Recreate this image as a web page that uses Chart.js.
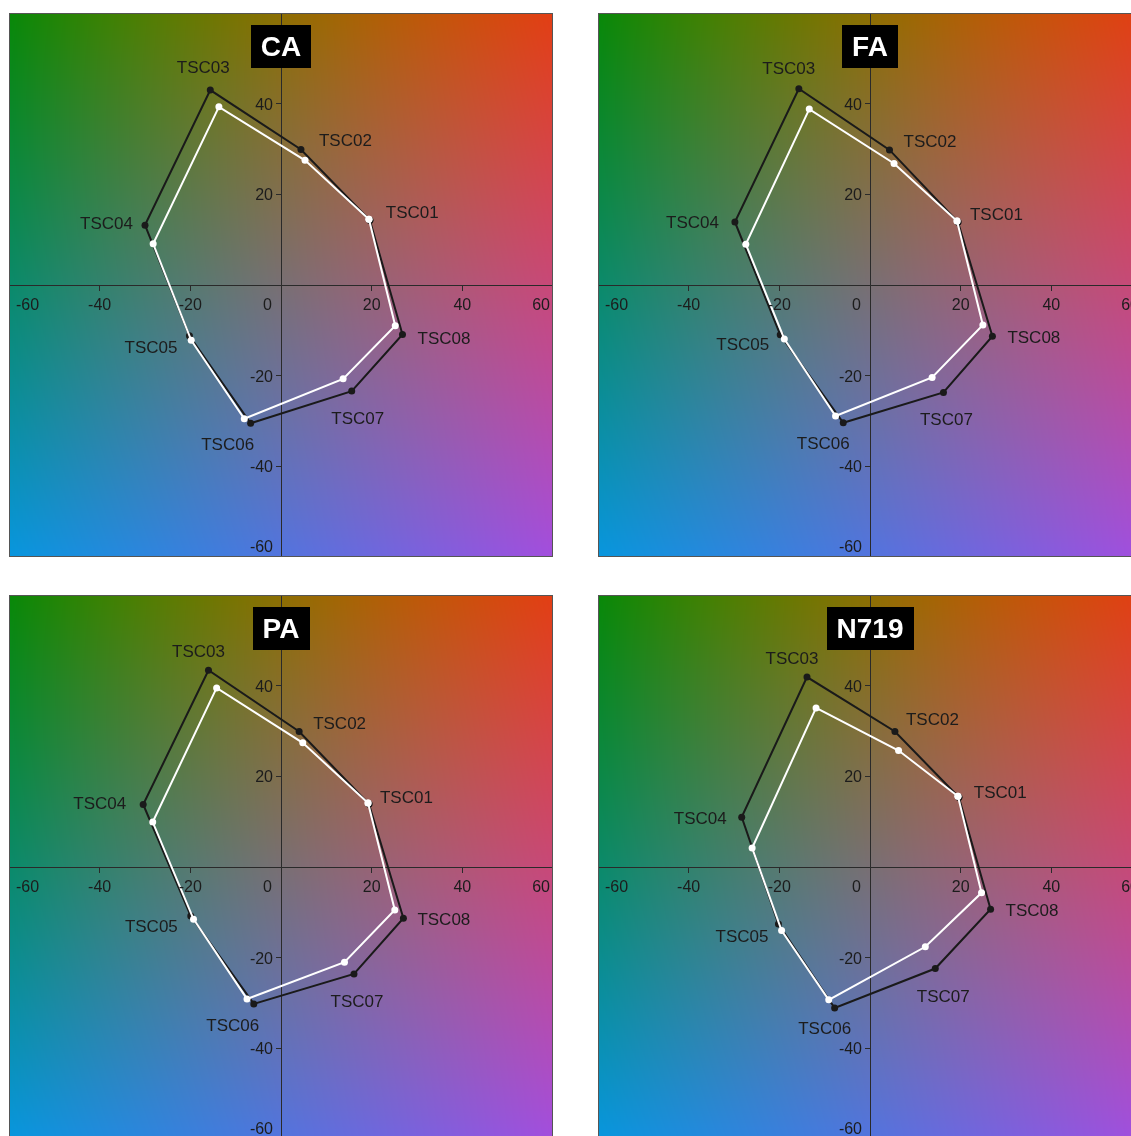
<!DOCTYPE html>
<html>
<head>
<meta charset="utf-8">
<script src="https://cdn.jsdelivr.net/npm/chart.js@4.4.1/dist/chart.umd.min.js"></script>
<style>
  html, body { margin: 0; padding: 0; background: #fff; overflow: hidden; }
  #sheet { position: relative; width: 1131px; height: 1136px; overflow: hidden; }
  #sheet canvas { position: absolute; }
</style>
</head>
<body>
<div id="sheet">
  <canvas id="cvCA" width="544" height="544" style="left:9px;top:13px"></canvas>
  <canvas id="cvFA" width="544" height="544" style="left:598px;top:13px"></canvas>
  <canvas id="cvPA" width="544" height="544" style="left:9px;top:595px"></canvas>
  <canvas id="cvN719" width="544" height="544" style="left:598px;top:595px"></canvas>
</div>
<script>
// ---------- data (a*, b*) ----------
const pointNames = ["TSC01", "TSC02", "TSC03", "TSC04", "TSC05", "TSC06", "TSC07", "TSC08"];
const xTicks = [-60, -40, -20, 0, 20, 40, 60];
const yTicks = [40, 20, -20, -40, -60];

// CA
const caRefA    = [19.6, 4.4, -15.6, -30.0, -20.2, -6.7, 15.6, 26.8];
const caRefB    = [14.3, 29.9, 43.0, 13.2, -11.2, -30.5, -23.4, -10.9];
const caSampleA = [19.4, 5.3, -13.7, -28.2, -19.8, -8.1, 13.7, 25.2];
const caSampleB = [14.5, 27.5, 39.3, 9.1, -12.2, -29.5, -20.7, -9.0];

// FA
const faRefA    = [19.4, 4.3, -15.7, -29.8, -19.8, -5.9, 16.2, 27.0];
const faRefB    = [13.9, 29.8, 43.3, 13.9, -11.0, -30.4, -23.7, -11.3];
const faSampleA = [19.2, 5.3, -13.4, -27.4, -18.9, -7.6, 13.7, 24.9];
const faSampleB = [14.1, 26.8, 38.8, 9.0, -11.9, -28.9, -20.4, -8.8];

// PA
const paRefA    = [19.4, 4.0, -16.0, -30.4, -19.9, -6.0, 16.1, 27.0];
const paRefB    = [13.9, 29.9, 43.4, 13.8, -10.8, -30.2, -23.6, -11.3];
const paSampleA = [19.2, 4.8, -14.2, -28.3, -19.3, -7.5, 14.0, 25.1];
const paSampleB = [14.1, 27.4, 39.5, 9.9, -11.5, -29.1, -21.0, -9.5];

// N719
const n719RefA    = [19.6, 5.5, -13.9, -28.3, -20.2, -7.8, 14.4, 26.6];
const n719RefB    = [15.4, 29.9, 41.9, 11.0, -12.6, -31.1, -22.4, -9.3];
const n719SampleA = [19.4, 6.3, -11.9, -26.0, -19.5, -9.1, 12.2, 24.6];
const n719SampleB = [15.6, 25.7, 35.1, 4.2, -14.0, -29.3, -17.6, -5.7];

// ---------- styling ----------
const FONT = '"Liberation Sans", Arial, sans-serif';
const INK = "#1c1c1c";
// a*b* backdrop colours on a 3x3 grid (rows top -> bottom, columns left -> right)
const BACK_GRID = [
  [[8, 136, 8],    [140, 110, 2],   [226, 62, 20]],
  [[10, 138, 106], [120, 111, 115], [200, 72, 120]],
  [[8, 150, 222],  [82, 116, 222],  [162, 78, 222]]
];
// label placement per panel: [dx, dy, align] from each reference point
const LABEL_POS = {
  CA:   [[16, -8, "left"], [18, -9, "left"], [-7, -23, "center"], [-12, -2, "right"],
         [-12, 12, "right"], [-23, 21, "center"], [6, 27, "center"], [15, 4, "left"]],
  FA:   [[12, -8, "left"], [14, -9, "left"], [-10, -20, "center"], [-16, 0, "right"],
         [-11, 9, "right"], [-20, 20, "center"], [3, 27, "center"], [15, 1, "left"]],
  PA:   [[11, -7, "left"], [14, -8, "left"], [-10, -19, "center"], [-17, -1, "right"],
         [-13, 10, "right"], [-21, 21, "center"], [3, 27, "center"], [14, 1, "left"]],
  N719: [[15, -5, "left"], [11, -12, "left"], [-15, -19, "center"], [-15, 1, "right"],
         [-10, 12, "right"], [-10, 20, "center"], [8, 28, "center"], [15, 1, "left"]]
};

function quad(t) {
  return [(1 - t) * (1 - 2 * t), 4 * t * (1 - t), t * (2 * t - 1)];
}

let backdrop = null;
function getBackdrop(w, h) {
  if (backdrop && backdrop.width === w && backdrop.height === h) return backdrop;
  const c = document.createElement("canvas");
  c.width = w; c.height = h;
  const g = c.getContext("2d");
  const img = g.createImageData(w, h);
  const wx = [];
  for (let x = 0; x < w; x++) wx.push(quad(x / (w - 1)));
  for (let y = 0; y < h; y++) {
    const wy = quad(y / (h - 1));
    for (let x = 0; x < w; x++) {
      const i = (y * w + x) * 4;
      for (let k = 0; k < 3; k++) {
        let s = 0;
        for (let r = 0; r < 3; r++)
          for (let q = 0; q < 3; q++) s += wy[r] * wx[x][q] * BACK_GRID[r][q][k];
        img.data[i + k] = Math.max(0, Math.min(255, Math.round(s)));
      }
      img.data[i + 3] = 255;
    }
  }
  g.putImageData(img, 0, 0);
  backdrop = c;
  return c;
}

const decor = {
  id: "decor",
  beforeDraw(chart) {
    const { ctx, chartArea: a } = chart;
    ctx.drawImage(getBackdrop(Math.round(a.right - a.left), Math.round(a.bottom - a.top)), a.left, a.top);
  },
  afterDatasetsDraw(chart, args, opts) {
    const { ctx, chartArea: a } = chart;
    const xs = chart.scales.x, ys = chart.scales.y;
    const x0 = xs.getPixelForValue(0), y0 = ys.getPixelForValue(0);
    ctx.save();
    ctx.fillStyle = INK;
    ctx.textBaseline = "middle";
    ctx.font = "16px " + FONT;

    xTicks.forEach(v => {
      let px = xs.getPixelForValue(v), align = "center";
      if (v === 0) { px = x0 - 9; align = "right"; }
      else if (v === xs.min) { px = a.left + 7; align = "left"; }
      else if (v === xs.max) { px = a.right - 3; align = "right"; }
      ctx.textAlign = align;
      ctx.fillText(String(v), px, y0 + 21);
    });
    yTicks.forEach(v => {
      let py = ys.getPixelForValue(v) + 1.5;
      if (v === ys.min) py = a.bottom - 9;
      ctx.textAlign = "right";
      ctx.fillText(String(v), x0 - 8, py);
    });

    // TSC labels next to the reference points
    ctx.font = "17px " + FONT;
    const pts = chart.getDatasetMeta(1).data;
    const place = LABEL_POS[opts.title];
    pointNames.forEach((name, i) => {
      const p = pts[i];
      const [dx, dy, align] = place[i];
      ctx.textAlign = align;
      ctx.fillText(name, p.x + dx, p.y + dy + 1);
    });
    ctx.restore();
  },
  afterDraw(chart, args, opts) {
    const { ctx, chartArea: a } = chart;
    const x0 = chart.scales.x.getPixelForValue(0);
    ctx.save();
    // title tag
    ctx.font = "bold 28px " + FONT;
    const w = ctx.measureText(opts.title).width + 20;
    ctx.fillStyle = "#000";
    ctx.fillRect(Math.round(x0 - w / 2), a.top + 12, Math.round(w), 43);
    ctx.fillStyle = "#fff";
    ctx.textAlign = "center";
    ctx.textBaseline = "middle";
    ctx.fillText(opts.title, x0, a.top + 35);
    // frame
    ctx.strokeStyle = "#555";
    ctx.lineWidth = 1;
    ctx.strokeRect(a.left + 0.5, a.top + 0.5, a.right - a.left - 1, a.bottom - a.top - 1);
    ctx.restore();
  }
};

function toPoints(xa, ya) {
  const pts = xa.map((x, i) => ({ x: x, y: ya[i] }));
  pts.push(pts[0]); // close the ring
  return pts;
}

function axis(pos) {
  return {
    type: "linear", min: -60, max: 60, position: pos,
    ticks: { display: false, stepSize: 20 },
    grid: { drawOnChartArea: false, drawTicks: true, tickLength: 5, tickColor: "#2a2a2a", tickWidth: 1 },
    border: { display: true, color: "#2a2a2a", width: 1 }
  };
}

function makePanel(canvasId, title, refA, refB, sampleA, sampleB) {
  return new Chart(document.getElementById(canvasId), {
    type: "scatter",
    data: {
      datasets: [
        {
          label: "sample", order: 0, data: toPoints(sampleA, sampleB), showLine: true,
          borderColor: "#ffffff", backgroundColor: "#ffffff", borderWidth: 2,
          pointRadius: 3.5, pointBorderWidth: 0
        },
        {
          label: "reference", order: 1, data: toPoints(refA, refB), showLine: true,
          borderColor: "#1a1a1a", backgroundColor: "#1a1a1a", borderWidth: 2,
          pointRadius: 3.5, pointBorderWidth: 0
        }
      ]
    },
    options: {
      responsive: false,
      animation: false,
      events: [],
      layout: { padding: 0, autoPadding: false },
      scales: { x: axis({ y: 0 }), y: axis({ x: 0 }) },
      plugins: { legend: { display: false }, tooltip: { enabled: false }, decor: { title: title } }
    },
    plugins: [decor]
  });
}

makePanel("cvCA", "CA", caRefA, caRefB, caSampleA, caSampleB);
makePanel("cvFA", "FA", faRefA, faRefB, faSampleA, faSampleB);
makePanel("cvPA", "PA", paRefA, paRefB, paSampleA, paSampleB);
makePanel("cvN719", "N719", n719RefA, n719RefB, n719SampleA, n719SampleB);
</script>
</body>
</html>
